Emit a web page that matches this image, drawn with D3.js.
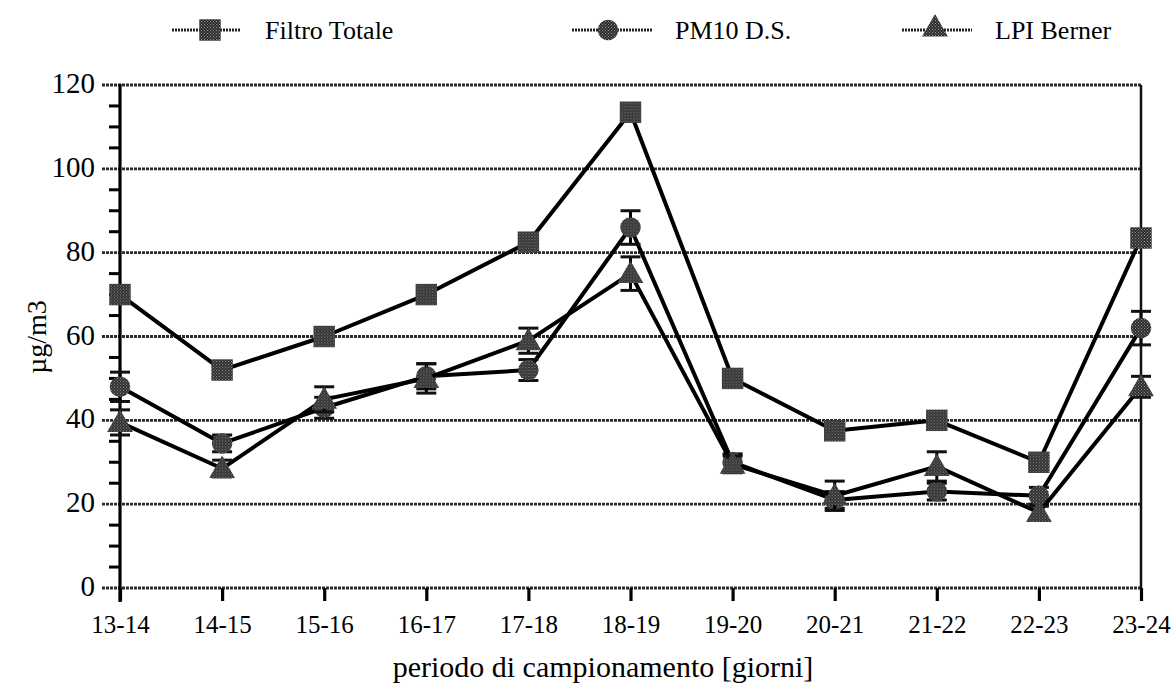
<!DOCTYPE html>
<html>
<head>
<meta charset="utf-8">
<script src="https://cdn.jsdelivr.net/npm/d3@7"></script>
<style>
  html, body { margin: 0; padding: 0; background: #fff; }
  svg { display: block; }
</style>
</head>
<body>
<svg id="chart" width="1173" height="691"></svg>
<script>
// Sampling periods (days)
const periods = ["13-14", "14-15", "15-16", "16-17", "17-18", "18-19", "19-20", "20-21", "21-22", "22-23", "23-24"];

// Concentrations in µg/m3
const filtroTotale = [70, 52, 60, 70, 82.5, 113.5, 50, 37.5, 40, 30, 83.5];
const pm10DS      = [48, 34.5, 43, 50.5, 52, 86, 30, 21, 23, 22, 62];
const lpiBerner   = [39.5, 28.5, 45, 50, 59, 75, 29.5, 22, 29, 18, 48];

// Error bar half-widths
const pm10Err = [3.5, 2, 2.5, 3, 2.5, 4, 2, 2, 2, 2, 4];
const lpiErr  = [3, 2, 3, 3.5, 3, 4, 2, 3.5, 3.5, 1.5, 2.5];

const yTicks = [0, 20, 40, 60, 80, 100, 120];
const seriesNames = ["Filtro Totale", "PM10 D.S.", "LPI Berner"];

const FONT = "'Liberation Serif', 'Times New Roman', Times, 'DejaVu Serif', serif";

const svg = d3.select("#chart").attr("font-family", FONT);

// stippled grey fill used by the markers
const defs = svg.append("defs");
const pat = defs.append("pattern").attr("id", "stipple")
  .attr("width", 3).attr("height", 3).attr("patternUnits", "userSpaceOnUse");
pat.append("rect").attr("width", 3).attr("height", 3).attr("fill", "#2a2a2a");
pat.append("rect").attr("x", 0).attr("y", 0).attr("width", 1).attr("height", 1).attr("fill", "#9a9a9a");
pat.append("rect").attr("x", 1.5).attr("y", 1.5).attr("width", 1).attr("height", 1).attr("fill", "#9a9a9a");

const plotLeft = 120, plotRight = 1141, plotTop = 85, plotBottom = 588;

const x = d3.scalePoint().domain(periods).range([plotLeft, plotRight]);
const y = d3.scaleLinear().domain([0, 120]).range([plotBottom, plotTop]);

// horizontal grid lines
svg.append("g").selectAll("line").data(yTicks.filter(d => d > 0)).join("line")
  .attr("x1", 102).attr("x2", plotRight)
  .attr("y1", d => y(d)).attr("y2", d => y(d))
  .attr("stroke", "#2a2a2a").attr("stroke-width", 2.8).attr("stroke-dasharray", "3 1");

// bottom axis line (dotted, like the grid)
svg.append("line").attr("x1", 102).attr("x2", plotRight).attr("y1", y(0)).attr("y2", y(0))
  .attr("stroke", "#2a2a2a").attr("stroke-width", 2.8).attr("stroke-dasharray", "3 1");

// right border
svg.append("line").attr("x1", plotRight).attr("x2", plotRight).attr("y1", plotTop).attr("y2", plotBottom)
  .attr("stroke", "#111").attr("stroke-width", 2.5);

// y axis line with minor ticks
svg.append("line").attr("x1", plotLeft).attr("x2", plotLeft).attr("y1", plotTop - 1).attr("y2", plotBottom + 14)
  .attr("stroke", "#000").attr("stroke-width", 3.2);
svg.append("g").selectAll("line").data(d3.range(5, 120, 5).filter(v => v % 20 !== 0)).join("line")
  .attr("x1", 109).attr("x2", plotLeft).attr("y1", d => y(d)).attr("y2", d => y(d))
  .attr("stroke", "#000").attr("stroke-width", 3);

// y tick labels
svg.append("g").selectAll("text").data(yTicks).join("text")
  .attr("x", 95).attr("y", d => y(d) + 8)
  .attr("text-anchor", "end").attr("font-size", 29).attr("font-family", FONT)
  .text(d => d);

// x ticks and labels
const xAxis = d3.axisBottom(x).tickSize(13).tickPadding(14);
const gx = svg.append("g").attr("transform", `translate(0,${plotBottom})`).call(xAxis)
  .attr("font-family", FONT);
gx.select(".domain").remove();
gx.selectAll(".tick line").attr("stroke", "#000").attr("stroke-width", 3.2);
gx.selectAll(".tick text").attr("font-size", 25).attr("font-family", FONT).attr("fill", "#000");

// axis titles
svg.append("text").attr("x", 603).attr("y", 677).attr("text-anchor", "middle")
  .attr("font-family", FONT).attr("font-size", 30).text("periodo di campionamento [giorni]");
svg.append("text").attr("transform", "translate(46,337) rotate(-90)")
  .attr("font-family", FONT).attr("text-anchor", "middle").attr("font-size", 28).text("µg/m3");

// marker shapes
const sym = {
  square: d3.symbol().type(d3.symbolSquare).size(460),
  circle: d3.symbol().type(d3.symbolCircle).size(330),
  triangle: d3.symbol().type(d3.symbolTriangle).size(290)
};

const line = d3.line().x((d, i) => x(periods[i])).y(d => y(d));

function drawSeries(values, errs, shape) {
  const g = svg.append("g");
  g.append("path").datum(values).attr("d", line)
    .attr("fill", "none").attr("stroke", "#000").attr("stroke-width", 4).attr("stroke-linejoin", "round");
  if (errs) {
    const eb = g.append("g").selectAll("g").data(values).join("g");
    eb.append("line")
      .attr("x1", (d, i) => x(periods[i])).attr("x2", (d, i) => x(periods[i]))
      .attr("y1", (d, i) => y(d + errs[i])).attr("y2", (d, i) => y(d - errs[i]))
      .attr("stroke", "#000").attr("stroke-width", 3);
    [1, -1].forEach(s => {
      eb.append("line")
        .attr("x1", (d, i) => x(periods[i]) - 10).attr("x2", (d, i) => x(periods[i]) + 10)
        .attr("y1", (d, i) => y(d + s * errs[i])).attr("y2", (d, i) => y(d + s * errs[i]))
        .attr("stroke", "#111").attr("stroke-width", 3);
    });
  }
  g.append("g").selectAll("path").data(values).join("path")
    .attr("transform", (d, i) => `translate(${x(periods[i])},${y(d) + (shape === "triangle" ? 2 : 0)})`)
    .attr("d", sym[shape]())
    .attr("fill", "url(#stipple)");
}

drawSeries(filtroTotale, null, "square");
drawSeries(pm10DS, pm10Err, "circle");
drawSeries(lpiBerner, lpiErr, "triangle");

// legend
const legendItems = [
  { name: seriesNames[0], shape: "square", x1: 172, x2: 240, mx: 210, tx: 265 },
  { name: seriesNames[1], shape: "circle", x1: 572, x2: 652, mx: 608, tx: 675 },
  { name: seriesNames[2], shape: "triangle", x1: 902, x2: 972, mx: 935, tx: 995 }
];
const lg = svg.append("g").selectAll("g").data(legendItems).join("g");
lg.append("line").attr("x1", d => d.x1).attr("x2", d => d.x2).attr("y1", 30).attr("y2", 30)
  .attr("stroke", "#222").attr("stroke-width", 3).attr("stroke-dasharray", "2 1");
lg.append("path").attr("transform", d => `translate(${d.mx},${d.shape === "triangle" ? 29 : 30})`)
  .attr("d", d => sym[d.shape]()).attr("fill", "url(#stipple)");
lg.append("text").attr("x", d => d.tx).attr("y", 39).attr("font-family", FONT)
  .attr("font-size", 26).text(d => d.name);
</script>
</body>
</html>
